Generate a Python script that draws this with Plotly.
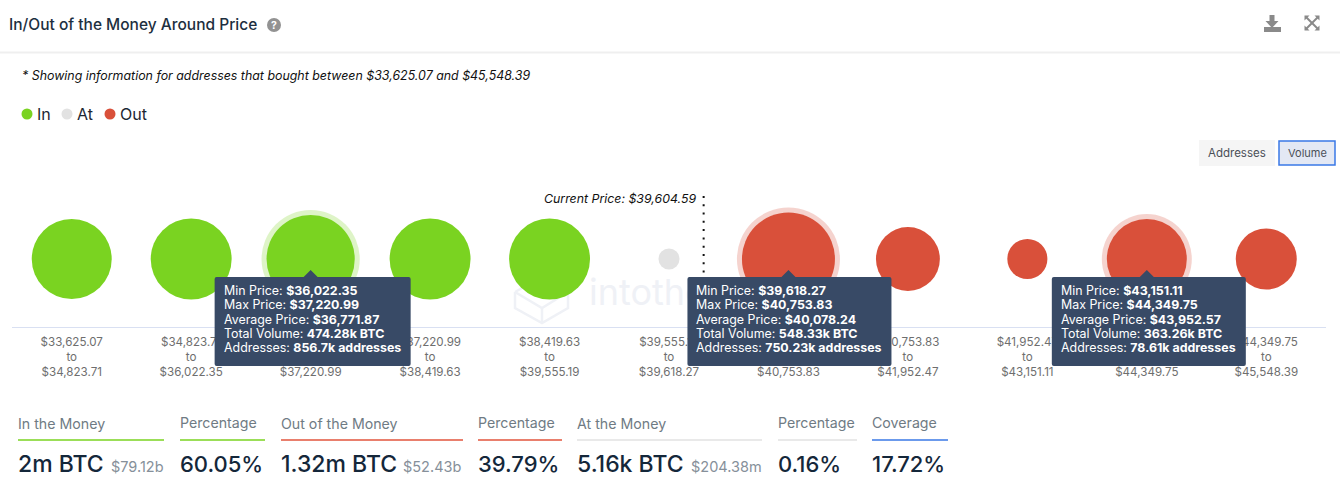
import plotly.graph_objects as go

# ---- data ----
bin_edges = [33625.07, 34823.71, 36022.35, 37220.99, 38419.63, 39555.19, 39618.27,
             40753.83, 41952.47, 43151.11, 44349.75, 45548.39]
in_volume_k = [363, 375, 474.28, 375, 375]
at_volume_k = [5.16]
out_volume_k = [548.33, 197, 55, 363.26, 173]
current_price = 39604.59
tip_bins = [2, 6, 9]
tip_avg = ["$36,771.87", "$40,078.24", "$43,952.57"]
tip_vol = ["474.28k BTC", "548.33k BTC", "363.26k BTC"]
tip_addr = ["856.7k addresses", "750.23k addresses", "78.61k addresses"]
stat_headers = ["In the Money", "Percentage", "Out of the Money", "Percentage",
                "At the Money", "Percentage", "Coverage"]
stat_values = ["2m BTC", "60.05%", "1.32m BTC", "39.79%", "5.16k BTC", "0.16%", "17.72%"]
stat_subs = ["$79.12b", "", "$52.43b", "", "$204.38m", "", ""]

# ---- style / layout constants ----
W, H = 1340, 478
FONT = "Inter"
GREEN, GREY, RED = "#7ad321", "#e2e2e2", "#d9503a"
BLUE = "#3a78e6"
M = dict(l=12, r=14, t=191, b=151)
PW, PH = W - M["l"] - M["r"], H - M["t"] - M["b"]


def fx(px):
    return (px - M["l"]) / PW


def fy(py):
    return (H - M["b"] - py) / PH


def poly(pts, close=False):
    s = " ".join(("M" if i == 0 else "L") + f"{fx(x):.5f},{fy(y):.5f}" for i, (x, y) in enumerate(pts))
    return s + (" Z" if close else "")


def dia(v):
    return max(21, 80 * (v / 363.26) ** 0.366)


def money(v):
    return f"${v:,.2f}"


n = len(bin_edges) - 1
tick_text = [f"{money(bin_edges[i])}<br>to<br>{money(bin_edges[i + 1])}" for i in range(n)]
in_x = list(range(5))
at_x = [5]
out_x = list(range(6, 11))
all_vol = in_volume_k + at_volume_k + out_volume_k
all_col = [GREEN] * 5 + [GREY] + [RED] * 5


def bin_px(b):
    return M["l"] + (b + 0.5) / n * PW


fig = go.Figure()

# watermark text sits under the bubbles
fig.add_trace(go.Scatter(x=[4.33], y=[-0.55], mode="text", text=["intotheblock"], textposition="middle right",
                         textfont=dict(family=FONT, size=36, color="#eff1f6"), showlegend=False, hoverinfo="skip",
                         cliponaxis=False))
# halos of the highlighted bins
fig.add_trace(go.Scatter(x=tip_bins, y=[0] * 3, mode="markers", showlegend=False, hoverinfo="skip",
                         marker=dict(size=[dia(all_vol[i]) + 10 for i in tip_bins],
                                     color=[all_col[i] for i in tip_bins], opacity=0.25, line_width=0)))
for name, xs, vals, col in [("In", in_x, in_volume_k, GREEN), ("At", at_x, at_volume_k, GREY),
                            ("Out", out_x, out_volume_k, RED)]:
    fig.add_trace(go.Scatter(x=xs, y=[0] * len(xs), mode="markers", name=name, showlegend=False,
                             marker=dict(size=[dia(v) for v in vals], color=col, opacity=1, line_width=0),
                             hoverinfo="skip"))

shapes = []
ann = []


def text(px, py, s, size, color, anchor="left", **font):
    shift = {"left": -1, "right": 1, "center": 0}[anchor]
    ann.append(dict(xref="paper", yref="paper", x=fx(px + shift), y=fy(py), text=s, showarrow=False, xanchor=anchor,
                    yanchor="middle", borderpad=0, font=dict(family=FONT, size=size, color=color, **font)))


def line(x0, y0, x1, y1, color, width):
    shapes.append(dict(type="line", xref="paper", yref="paper", x0=fx(x0), x1=fx(x1), y0=fy(y0), y1=fy(y1),
                       line=dict(color=color, width=width)))


def rect(x0, y0, x1, y1, fill, border=None, bw=0):
    shapes.append(dict(type="rect", xref="paper", yref="paper", x0=fx(x0), x1=fx(x1), y0=fy(y0), y1=fy(y1),
                       fillcolor=fill, line=dict(color=border or fill, width=bw)))


def dot(cx, cy, r, fill):
    shapes.append(dict(type="circle", xref="paper", yref="paper", x0=fx(cx - r), x1=fx(cx + r), y0=fy(cy - r),
                       y1=fy(cy + r), fillcolor=fill, line_width=0))


# header
text(9, 24, "In/Out of the Money Around Price", 15.5, "#1d2f40", weight=500)
dot(274, 25, 7, "#929292")
text(274, 25, "?", 10.5, "#ffffff", "center", weight=700)
line(0, 52.5, W, 52.5, "#efefef", 2)
ICON = "#8a8a8a"
shapes.append(dict(type="path", xref="paper", yref="paper", fillcolor=ICON, line_width=0,
                   path=poly([(1269.5, 15), (1274.5, 15), (1274.5, 21), (1278.5, 21), (1272, 28), (1265.5, 21), (1269.5, 21)], True)))
rect(1264, 27, 1281, 32, ICON)
for sx, sy in [(-1, -1), (1, -1), (-1, 1), (1, 1)]:
    c = (1312, 23)
    shapes.append(dict(type="path", xref="paper", yref="paper", fillcolor=ICON, line_width=0,
                       path=poly([(c[0] + sx * 7.5, c[1] + sy * 7.5), (c[0] + sx * 2.5, c[1] + sy * 7.5),
                                  (c[0] + sx * 7.5, c[1] + sy * 2.5)], True)))
    line(c[0], c[1], c[0] + sx * 5.5, c[1] + sy * 5.5, ICON, 2)

# note + legend
text(22, 76, "* Showing information for addresses that bought between $33,625.07 and $45,548.39", 12.4, "#111111",
     style="italic")
for cx, tx, label, col in [(27, 37, "In", GREEN), (67, 77, "At", GREY), (110, 120, "Out", RED)]:
    dot(cx, 114, 5.5, col)
    text(tx, 114, label, 16, "#1d2733")

# buttons
rect(1199, 140, 1275, 166, "#f5f5f5")
text(1237, 153, "Addresses", 11.5, "#4a4f57", "center")
rect(1279, 141, 1335, 165, "#e3e8f4", BLUE, 1.5)
text(1307, 153, "Volume", 11, "#4a4f57", "center")

# watermark cube
WM = "#eff1f6"
for pts in [[(515, 292), (542, 277), (568, 292), (568, 308), (542, 323), (515, 308), (515, 292)],
            [(515, 292), (542, 308), (568, 292)], [(542, 308), (542, 323)]]:
    shapes.append(dict(type="path", xref="paper", yref="paper", layer="below", path=poly(pts),
                       line=dict(color=WM, width=2.5)))

# current price marker
cur_x = 5.29
shapes.append(dict(type="line", xref="x", yref="paper", x0=cur_x, x1=cur_x, y0=0.4, y1=1.0,
                   line=dict(color="#111111", width=2, dash="2px,6.3px")))
text(696, 198, f"Current Price: {money(current_price)}", 12.35, "#111111", "right", style="italic")

# tooltips
TIP = "#384a66"
tip_left = [-96, -101, -95]
tip_right = [100, 103, 99]
for k, b in enumerate(tip_bins):
    cx = bin_px(b)
    l, r = cx + tip_left[k], cx + tip_right[k]
    top, bot = 277, 366
    P = lambda x, y: f"{fx(x):.5f},{fy(y):.5f}"
    path = (f"M{P(l + 2, top)} L{P(cx - 7, top)} L{P(cx, top - 7)} L{P(cx + 7, top)} L{P(r - 2, top)} "
            f"Q{P(r, top)} {P(r, top + 2)} L{P(r, bot - 2)} Q{P(r, bot)} {P(r - 2, bot)} "
            f"L{P(l + 2, bot)} Q{P(l, bot)} {P(l, bot - 2)} L{P(l, top + 2)} Q{P(l, top)} {P(l + 2, top)} Z")
    shapes.append(dict(type="path", xref="paper", yref="paper", path=path, fillcolor=TIP, line_width=0))
    rows = [("Min Price", money(bin_edges[b])), ("Max Price", money(bin_edges[b + 1])),
            ("Average Price", tip_avg[k]), ("Total Volume", tip_vol[k]), ("Addresses", tip_addr[k])]
    for j, (lab, val) in enumerate(rows):
        ann.append(dict(xref="x", yref="paper", x=b, xshift=tip_left[k] + 8, y=fy(290.5 + j * 14.3),
                        text=f"{lab}: <b>{val}</b>", showarrow=False, xanchor="left", yanchor="middle", borderpad=0,
                        font=dict(family=FONT, size=12.4, color="#ffffff")))

# bottom statistics
stat_x0 = [18, 180, 281, 478, 577, 778, 872]
stat_x1 = [164, 265, 463, 562, 762, 857, 948]
stat_col = [GREEN, GREEN, "#e2553d", "#e2553d", "#e2e2e2", "#e2e2e2", BLUE]
sub_x = [111, 0, 403, 0, 691, 0, 0]
for i, h in enumerate(stat_headers):
    text(stat_x0[i], 423, h, 14.2, "#6f7b84")
    line(stat_x0[i], 440, stat_x1[i], 440, stat_col[i], 1.6)
    size = 23 if stat_subs[i] else 22
    text(stat_x0[i], 464, stat_values[i], size, "#14273a", weight=500)
    if stat_subs[i]:
        text(sub_x[i], 466, stat_subs[i], 14.5, "#86909a")

fig.update_layout(
    width=W, height=H, margin=M, paper_bgcolor="#ffffff", plot_bgcolor="#ffffff", showlegend=False,
    shapes=shapes, annotations=ann, font=dict(family=FONT),
    xaxis=dict(range=[-0.5, n - 0.5], tickmode="array", tickvals=list(range(n)), ticktext=tick_text,
               showgrid=False, zeroline=False, showline=True, linecolor="#d9e0f2", linewidth=1, ticks="",
               ticklabelstandoff=4,
               tickfont=dict(family=FONT, size=11.6, color="#6e6e6e"), fixedrange=True),
    yaxis=dict(range=[-1, 1], visible=False, fixedrange=True),
)
fig.write_html("out.html", config=dict(displayModeBar=False),
               post_script="document.body.style.margin='0';document.body.style.overflow='hidden';")
